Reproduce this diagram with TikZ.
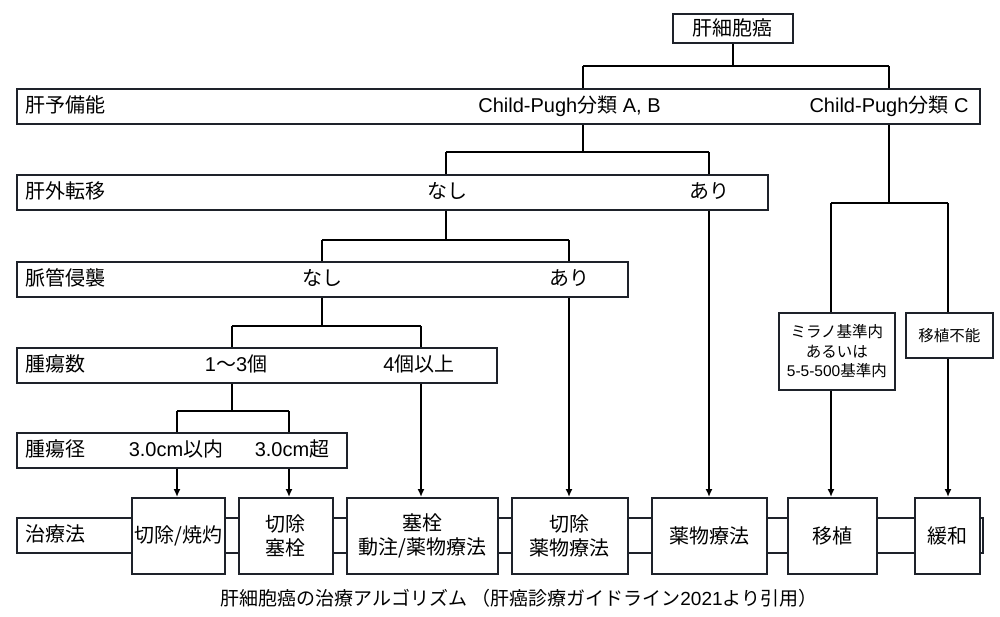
\documentclass[tikz,border=0pt]{standalone}
\usepackage{fontspec}
\setmainfont{Liberation Sans}
\newfontfamily\jpf{Noto Sans CJK JP}
\usetikzlibrary{arrows.meta}
\newcommand\J[1]{{\jpf #1}}
\definecolor{bd}{RGB}{30,34,42}
\begin{document}
\begin{tikzpicture}[x=1pt,y=-1pt,
  box/.style={draw=bd, line width=1.7pt, fill=white, inner sep=0pt, anchor=north west},
  lbl/.style={inner sep=0pt, font=\fontsize{20}{24}\selectfont, text height=17pt, text depth=3pt},
  tbox/.style={box, font=\fontsize{20}{24}\selectfont, align=center, minimum height=76pt},
  sbox/.style={box, font=\fontsize{15.5}{19.5}\selectfont, align=center},
  conn/.style={draw=black, line width=1.6pt},
  arr/.style={conn, -{Latex[length=8pt,width=7pt]}}
]
\useasboundingbox (0,0) rectangle (1000,616);

% coordinates of branch points
\coordinate (k0L) at (583,66);  \coordinate (k0R) at (889,66);
\coordinate (k1L) at (446,152); \coordinate (k1R) at (709,152);
\coordinate (k2L) at (831,203); \coordinate (k2R) at (948,203);
\coordinate (k3L) at (322,240); \coordinate (k3R) at (569,240);
\coordinate (k4L) at (232,326); \coordinate (k4R) at (421,326);
\coordinate (k5L) at (177,411); \coordinate (k5R) at (289,411);

% top box
\node[box, minimum width=120pt, minimum height=29pt, font=\fontsize{20}{24}\selectfont, text height=17pt, text depth=3pt] (top) at (672,13) {\J{肝細胞癌}};

% row boxes
\node[box, minimum width=963pt, minimum height=35pt] (r1) at (16,88) {};
\node[box, minimum width=751pt, minimum height=35pt] (r2) at (16,174) {};
\node[box, minimum width=611pt, minimum height=35pt] (r3) at (16,261) {};
\node[box, minimum width=480pt, minimum height=35pt] (r4) at (16,347) {};
\node[box, minimum width=330pt, minimum height=35pt] (r5) at (16,432) {};
\node[box, minimum width=966pt, minimum height=35pt] (r6) at (16,517) {};

% row labels
\node[lbl, anchor=west] (r1t) at (25,105.5) {\J{肝予備能}};
\node[lbl] (cpab) at (569.5,105.5) {Child-Pugh\J{分類} A, B};
\node[lbl] (cpc) at (889,105.5) {Child-Pugh\J{分類} C};
\node[lbl, anchor=west] (r2t) at (25,191.5) {\J{肝外転移}};
\node[lbl] (n2) at (447,191.5) {\J{なし}};
\node[lbl] (a2) at (709,191.5) {\J{あり}};
\node[lbl, anchor=west] (r3t) at (25,278.5) {\J{脈管侵襲}};
\node[lbl] (n3) at (322,278.5) {\J{なし}};
\node[lbl] (a3) at (569,278.5) {\J{あり}};
\node[lbl, anchor=west] (r4t) at (25,364.5) {\J{腫瘍数}};
\node[lbl] (c13) at (236,364.5) {1\J{〜}3\J{個}};
\node[lbl] (c4) at (419,364.5) {4\J{個以上}};
\node[lbl, anchor=west] (r5t) at (25,449.5) {\J{腫瘍径}};
\node[lbl] (d1) at (176,449.5) {3.0cm\J{以内}};
\node[lbl] (d2) at (292,449.5) {3.0cm\J{超}};
\node[lbl, anchor=west] (r6t) at (25,534.5) {\J{治療法}};

% treatment boxes
\node[tbox, minimum width=93pt] (t1) at (131,497) {\J{切除/焼灼}};
\node[tbox, minimum width=94pt] (t2) at (238,497) {\J{切除}\\\J{塞栓}};
\node[tbox, minimum width=151pt] (t3) at (346,497) {\J{塞栓}\\\J{動注/薬物療法}};
\node[tbox, minimum width=116pt] (t4) at (511,497) {\J{切除}\\\J{薬物療法}};
\node[tbox, minimum width=115pt] (t5) at (651,497) {\J{薬物療法}};
\node[tbox, minimum width=89pt] (t6) at (787,497) {\J{移植}};
\node[tbox, minimum width=65pt] (t7) at (914,497) {\J{緩和}};

% transplant criteria boxes
\node[sbox, minimum width=116pt, minimum height=77pt] (m1) at (778,312) {\J{ミラノ基準内}\\\J{あるいは}\\5-5-500\J{基準内}};
\node[sbox, minimum width=87pt, minimum height=45pt] (m2) at (905,312) {\J{移植不能}};

% connectors
\draw[conn] (top.south) -- (top.south |- k0L);
\draw[conn] (k0L) -- (k0R);
\draw[conn] (k0L) -- (k0L |- r1.north);
\draw[conn] (k0R) -- (k0R |- r1.north);

\draw[conn] (k0L |- r1.south) -- (k0L |- k1L);
\draw[conn] (k1L) -- (k1R);
\draw[conn] (k1L) -- (k1L |- r2.north);
\draw[conn] (k1R) -- (k1R |- r2.north);

\draw[conn] (k0R |- r1.south) -- (k0R |- k2L);
\draw[conn] (k2L) -- (k2R);
\draw[conn] (k2L) -- (k2L |- m1.north);
\draw[conn] (k2R) -- (k2R |- m2.north);

\draw[conn] (k1L |- r2.south) -- (k1L |- k3L);
\draw[conn] (k3L) -- (k3R);
\draw[conn] (k3L) -- (k3L |- r3.north);
\draw[conn] (k3R) -- (k3R |- r3.north);
\draw[arr] (k1R |- r2.south) -- (k1R |- t5.north);

\draw[conn] (k3L |- r3.south) -- (k3L |- k4L);
\draw[conn] (k4L) -- (k4R);
\draw[conn] (k4L) -- (k4L |- r4.north);
\draw[conn] (k4R) -- (k4R |- r4.north);
\draw[arr] (k3R |- r3.south) -- (k3R |- t4.north);

\draw[conn] (k4L |- r4.south) -- (k4L |- k5L);
\draw[conn] (k5L) -- (k5R);
\draw[conn] (k5L) -- (k5L |- r5.north);
\draw[conn] (k5R) -- (k5R |- r5.north);
\draw[arr] (k4R |- r4.south) -- (k4R |- t3.north);

\draw[arr] (k5L |- r5.south) -- (k5L |- t1.north);
\draw[arr] (k5R |- r5.south) -- (k5R |- t2.north);
\draw[arr] (k2L |- m1.south) -- (k2L |- t6.north);
\draw[arr] (k2R |- m2.south) -- (k2R |- t7.north);

% caption
\node[font=\fontsize{19}{22}\selectfont, inner sep=0pt] (cap) at (519,598) {\J{肝細胞癌の治療アルゴリズム （肝癌診療ガイドライン}2021\J{より引用）}};
\end{tikzpicture}
\end{document}
